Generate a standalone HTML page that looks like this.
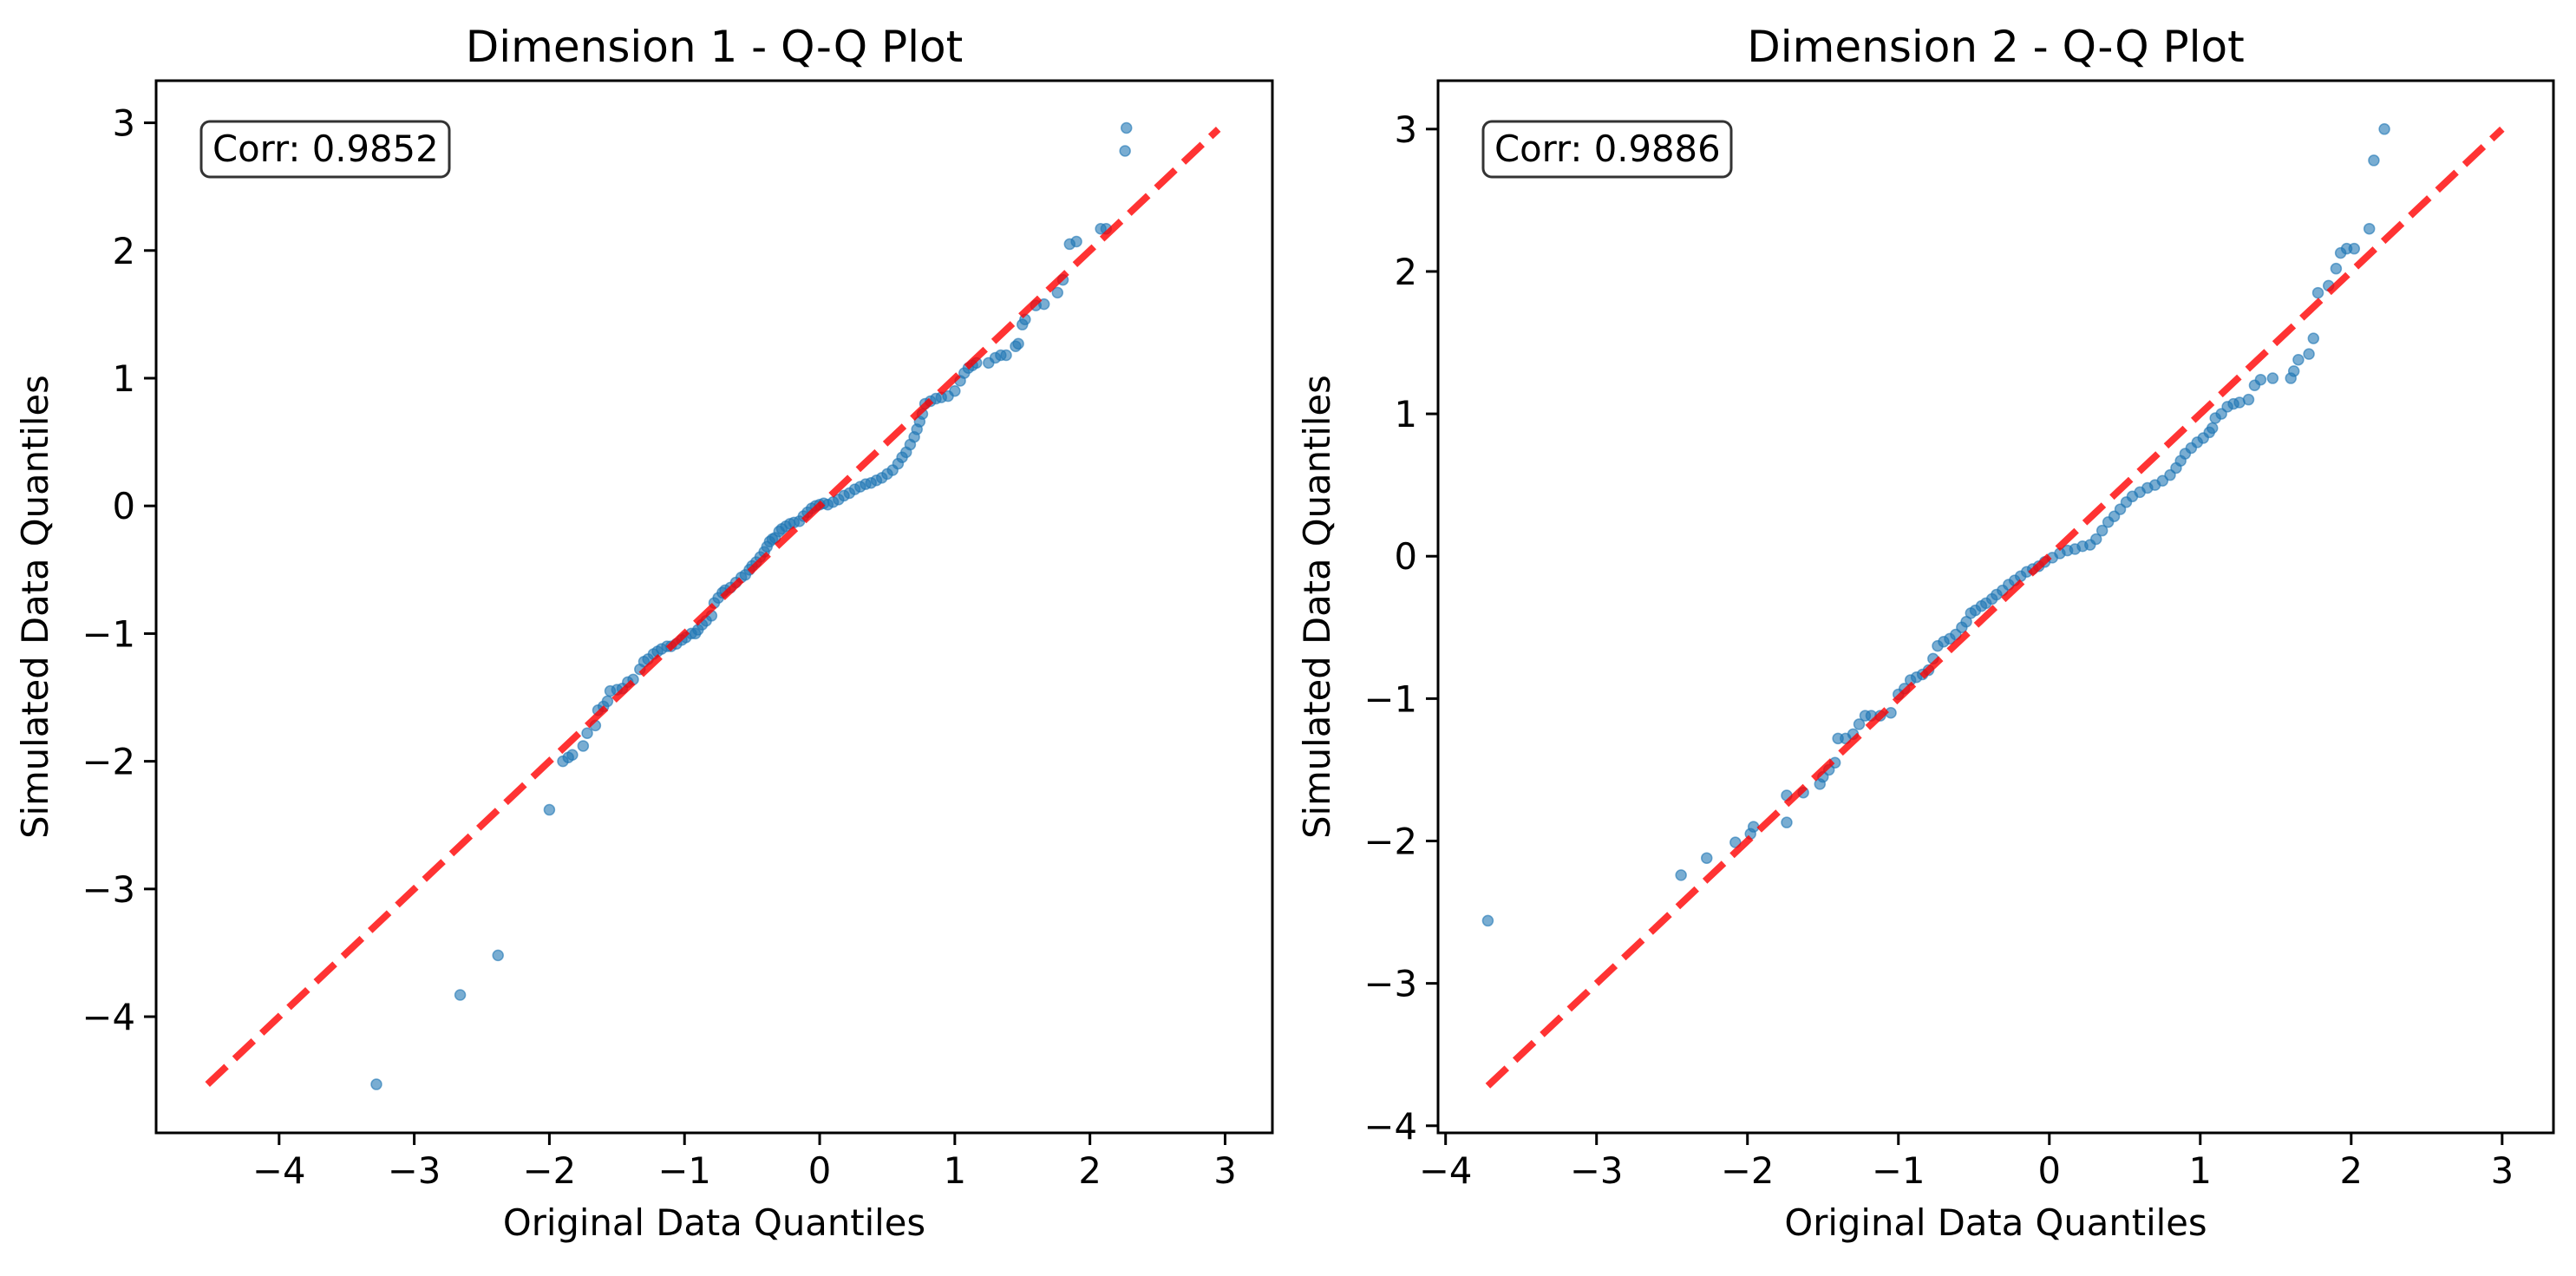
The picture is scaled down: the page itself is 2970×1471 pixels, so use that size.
<!DOCTYPE html>
<html><head><meta charset="utf-8"><style>
body{margin:0;background:#fff}
svg text{font-family:"DejaVu Sans","Liberation Sans",sans-serif;fill:#000}
</style></head><body>
<svg id="fig" width="2970" height="1466" viewBox="0 0 2970 1466" xmlns="http://www.w3.org/2000/svg"></svg>
<script>
// Panel 1 data
const p1x=[-3.28,-2.66,-2.38,-2.0,-1.9,-1.86,-1.83,-1.75,-1.72,-1.66,-1.64,-1.6,-1.57,-1.55,-1.5,-1.46,-1.42,-1.38,-1.33,-1.3,-1.27,-1.23,-1.2,-1.17,-1.13,-1.1,-1.06,-1.02,-0.99,-0.95,-0.92,-0.9,-0.87,-0.84,-0.8,-0.78,-0.75,-0.72,-0.7,-0.66,-0.62,-0.58,-0.55,-0.52,-0.5,-0.47,-0.44,-0.41,-0.39,-0.37,-0.35,-0.33,-0.3,-0.28,-0.25,-0.22,-0.19,-0.15,-0.12,-0.09,-0.06,-0.03,0.0,0.03,0.06,0.1,0.14,0.18,0.22,0.26,0.3,0.34,0.38,0.42,0.46,0.5,0.54,0.58,0.61,0.64,0.67,0.7,0.72,0.74,0.76,0.78,0.82,0.86,0.9,0.95,1.0,1.04,1.07,1.1,1.13,1.16,1.25,1.3,1.34,1.38,1.45,1.47,1.5,1.52,1.6,1.66,1.76,1.8,1.85,1.9,2.08,2.12,2.26,2.27];
const p1y=[-4.53,-3.83,-3.52,-2.38,-2.0,-1.97,-1.95,-1.88,-1.78,-1.72,-1.6,-1.57,-1.53,-1.45,-1.44,-1.43,-1.38,-1.36,-1.28,-1.22,-1.2,-1.16,-1.14,-1.12,-1.1,-1.1,-1.08,-1.05,-1.03,-1.0,-1.0,-0.97,-0.93,-0.9,-0.86,-0.76,-0.72,-0.68,-0.66,-0.64,-0.6,-0.56,-0.54,-0.5,-0.47,-0.44,-0.4,-0.36,-0.32,-0.28,-0.26,-0.25,-0.2,-0.18,-0.16,-0.14,-0.13,-0.12,-0.08,-0.05,-0.02,0.0,0.01,0.02,0.01,0.03,0.05,0.08,0.1,0.13,0.15,0.17,0.18,0.2,0.22,0.25,0.28,0.33,0.38,0.42,0.48,0.54,0.6,0.66,0.72,0.8,0.82,0.84,0.85,0.86,0.9,0.98,1.04,1.08,1.1,1.12,1.12,1.16,1.18,1.18,1.25,1.27,1.42,1.46,1.57,1.58,1.67,1.77,2.05,2.07,2.17,2.17,2.78,2.96];
// Panel 2 data
const p2x=[-3.72,-2.44,-2.27,-2.08,-1.98,-1.96,-1.74,-1.74,-1.63,-1.52,-1.5,-1.46,-1.42,-1.4,-1.35,-1.3,-1.26,-1.22,-1.18,-1.12,-1.05,-1.0,-0.96,-0.92,-0.88,-0.84,-0.8,-0.77,-0.74,-0.7,-0.66,-0.62,-0.58,-0.55,-0.52,-0.49,-0.45,-0.42,-0.38,-0.35,-0.31,-0.27,-0.23,-0.19,-0.15,-0.11,-0.07,-0.03,0.02,0.07,0.12,0.17,0.22,0.27,0.31,0.35,0.39,0.43,0.47,0.51,0.55,0.6,0.65,0.7,0.75,0.8,0.84,0.87,0.9,0.94,0.98,1.02,1.06,1.08,1.1,1.14,1.18,1.22,1.26,1.32,1.36,1.4,1.48,1.6,1.62,1.65,1.72,1.75,1.78,1.85,1.9,1.93,1.97,2.02,2.12,2.15,2.22];
const p2y=[-2.56,-2.24,-2.12,-2.01,-1.95,-1.9,-1.68,-1.87,-1.66,-1.6,-1.55,-1.5,-1.45,-1.28,-1.28,-1.25,-1.18,-1.12,-1.12,-1.12,-1.1,-0.97,-0.93,-0.87,-0.85,-0.83,-0.8,-0.72,-0.63,-0.6,-0.58,-0.55,-0.5,-0.46,-0.4,-0.38,-0.35,-0.33,-0.3,-0.27,-0.24,-0.2,-0.17,-0.14,-0.11,-0.09,-0.07,-0.04,-0.01,0.02,0.04,0.05,0.07,0.08,0.12,0.18,0.24,0.28,0.33,0.38,0.42,0.45,0.48,0.5,0.53,0.57,0.62,0.67,0.72,0.76,0.8,0.83,0.87,0.9,0.97,1.0,1.05,1.07,1.08,1.1,1.2,1.24,1.25,1.25,1.3,1.38,1.42,1.53,1.85,1.9,2.02,2.13,2.16,2.16,2.3,2.78,3.0];
const ticks=[-4,-3,-2,-1,0,1,2,3];
const tickLabels=["\u22124","\u22123","\u22122","\u22121","0","1","2","3"];
const titles=["Dimension 1 - Q-Q Plot","Dimension 2 - Q-Q Plot"];
const corrs=["Corr: 0.9852","Corr: 0.9886"];
const lineRange1=[-4.53,2.95];
const lineRange2=[-3.72,3.0];

const NS="http://www.w3.org/2000/svg";
const svg=document.getElementById('fig');
function mk(tag,attrs,parent){const e=document.createElementNS(NS,tag);for(const k in attrs)e.setAttribute(k,attrs[k]);(parent||svg).appendChild(e);return e;}

function panel(idx,L,R,T,B,xmin,xmax,ymin,ymax,xs,ys,lr){
  const g=mk('g',{});
  
  
  const sx=v=>L+(v-xmin)/(xmax-xmin)*(R-L);
  const sy=v=>B-(v-ymin)/(ymax-ymin)*(B-T);
  const pg=mk('g',{},g);
  
  
  for(let i=0;i<xs.length;i++){
    const c=mk('circle',{cx:sx(xs[i]),cy:sy(ys[i]),r:6,fill:'#1f77b4','fill-opacity':0.6,stroke:'#1f77b4','stroke-opacity':0.6,'stroke-width':1.5},pg);
    
    
  }
  const ln=mk('line',{x1:sx(lr[0]),y1:sy(lr[0]),x2:sx(lr[1]),y2:sy(lr[1]),stroke:'#ff0000','stroke-opacity':0.8,'stroke-width':8,'stroke-dasharray':'30 13'},g);
  
  
  const fr=mk('rect',{x:L,y:T,width:R-L,height:B-T,fill:'none',stroke:'#000','stroke-width':3},g);
  
  
  ticks.forEach((t,i)=>{
    if(t>=xmin&&t<=xmax){
      const x=sx(t);
      const tk=mk('line',{x1:x,y1:B,x2:x,y2:B+14,stroke:'#000','stroke-width':3},g);
      
      
      const tx=mk('text',{x:x,y:B+58,'font-size':41.7,'text-anchor':'middle'},g);
      tx.textContent=tickLabels[i];
      
      
    }
    if(t>=ymin&&t<=ymax){
      const y=sy(t);
      const tk=mk('line',{x1:L-14,y1:y,x2:L,y2:y,stroke:'#000','stroke-width':3},g);
      
      
      const tx=mk('text',{x:L-24,y:y+15,'font-size':41.7,'text-anchor':'end'},g);
      tx.textContent=tickLabels[i];
      
      
    }
  });
  const ti=mk('text',{x:(L+R)/2,y:T-22,'font-size':50,'text-anchor':'middle'},g);
  ti.textContent=titles[idx];
  
  
  const xl=mk('text',{x:(L+R)/2,y:B+118,'font-size':41.7,'text-anchor':'middle'},g);
  xl.textContent='Original Data Quantiles';
  
  
  const yx=L-125, yy=(T+B)/2;
  const yl=mk('text',{x:yx,y:yy,'font-size':41.7,'text-anchor':'middle',transform:'rotate(-90 '+yx+' '+yy+')'},g);
  yl.textContent='Simulated Data Quantiles';
  
  
  const bx=mk('rect',{x:L+52,y:T+47,width:286,height:64,rx:10,fill:'#fff',stroke:'#333','stroke-width':3},g);
  
  
  const bt=mk('text',{x:L+65,y:T+93,'font-size':41.7},g);
  bt.textContent=corrs[idx];
  
  
}
panel(0,180,1467,93,1306,-4.91,3.35,-4.91,3.33,p1x,p1y,lineRange1);
panel(1,1658,2944,93,1306,-4.05,3.34,-4.05,3.34,p2x,p2y,lineRange2);
</script>
</body></html>
